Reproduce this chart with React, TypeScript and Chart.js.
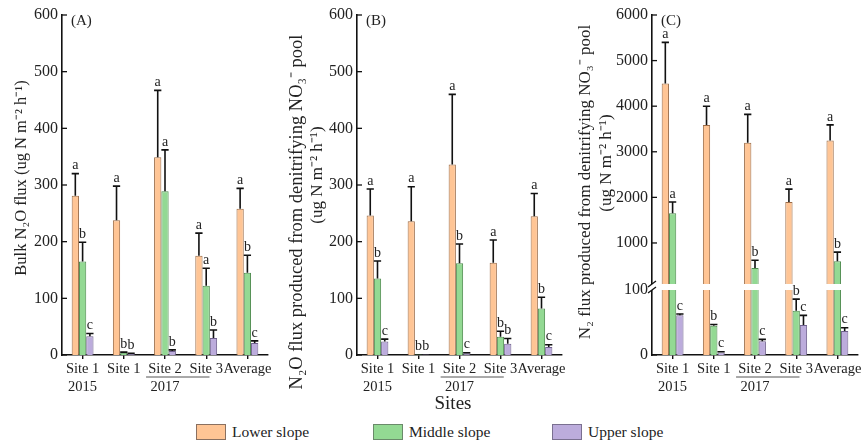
import React, { useEffect, useRef } from 'react';
import { Chart, registerables, LinearScale } from 'chart.js';

// ---------------- data ----------------
const CATEGORIES: (string | string[])[] = [['Site 1', '2015'], 'Site 1', ['Site 2', '2017'], 'Site 3', 'Average'];
const SERIES_NAMES = ['Lower slope', 'Middle slope', 'Upper slope'];

// Panel A: Bulk N2O flux
const A_LOWER = [281, 238, 349, 175, 258];
const A_LOWER_ERR = [39, 60, 118, 40, 36];
const A_MIDDLE = [165, 4, 289, 122, 145];
const A_MIDDLE_ERR = [34, 1, 73, 31, 31];
const A_UPPER = [33, 2, 7, 30, 21];
const A_UPPER_ERR = [5, 1, 2, 14, 4];
const A_LETTERS_LOWER = ['a', 'a', 'a', 'a', 'a'];
const A_LETTERS_MIDDLE = ['b', 'b', 'a', 'a', 'b'];
const A_LETTERS_UPPER = ['c', 'b', 'b', 'b', 'c'];

// Panel B: N2O from denitrifying NO3- pool
const B_LOWER = [246, 236, 336, 163, 245];
const B_LOWER_ERR = [47, 61, 124, 40, 40];
const B_MIDDLE = [135, 1, 162, 32, 82];
const B_MIDDLE_ERR = [31, 0, 34, 10, 20];
const B_UPPER = [24, 1, 3, 20, 14];
const B_UPPER_ERR = [4, 0, 1, 9, 4];
const B_LETTERS_LOWER = ['a', 'a', 'a', 'a', 'a'];
const B_LETTERS_MIDDLE = ['b', 'b', 'b', 'b', 'b'];
const B_LETTERS_UPPER = ['c', 'b', 'c', 'b', 'c'];

// Panel C: N2 from denitrifying NO3- pool (broken axis)
const C_LOWER = [4500, 3590, 3200, 1900, 3250];
const C_LOWER_ERR = [900, 410, 620, 280, 340];
const C_MIDDLE = [1650, 45, 450, 68, 600];
const C_MIDDLE_ERR = [250, 2, 170, 18, 200];
const C_UPPER = [61, 4, 21, 46, 37];
const C_UPPER_ERR = [2, 1, 3, 15, 5];
const C_LETTERS_LOWER = ['a', 'a', 'a', 'a', 'a'];
const C_LETTERS_MIDDLE = ['a', 'b', 'b', 'b', 'b'];
const C_LETTERS_UPPER = ['c', 'c', 'c', 'c', 'c'];

const AB_TICKS = [0, 100, 200, 300, 400, 500, 600];
const C_TICKS = [0, 100, 1000, 2000, 3000, 4000, 5000, 6000];
const C_BREAK = 100;

// ---------------- styles ----------------
const FONT = "'Liberation Serif', 'Times New Roman', serif";
const FILLS = ['#FFC595', '#93D993', '#BCACDC'];
const BORDERS = ['#9B6B46', '#4E8B4E', '#6F608D'];
const C_LOW_SHARE = 65 / 340;
const C_GAP_SHARE = 6 / 340;

class BrokenLinearScale extends (LinearScale as any) {
  static id = 'brokenLinear';
  static defaults = (LinearScale as any).defaults;
  buildTicks() {
    return C_TICKS.map((v) => ({ value: v }));
  }
  segments() {
    const h = this.bottom - this.top;
    const lowH = h * C_LOW_SHARE;
    const gapBottom = this.bottom - lowH;
    const gapTop = gapBottom - h * C_GAP_SHARE;
    return { lowH, gapBottom, gapTop };
  }
  getPixelForValue(value: number) {
    const { lowH, gapTop } = this.segments();
    if (value <= C_BREAK) return this.bottom - (value / C_BREAK) * lowH;
    return gapTop - ((value - C_BREAK) / (this.max - C_BREAK)) * (gapTop - this.top);
  }
  getValueForPixel(pixel: number) {
    const { lowH, gapTop, gapBottom } = this.segments();
    if (pixel >= gapBottom) return ((this.bottom - pixel) / lowH) * C_BREAK;
    return C_BREAK + ((gapTop - pixel) / (gapTop - this.top)) * (this.max - C_BREAK);
  }
}

Chart.register(...registerables, BrokenLinearScale as any);

type TitleLine = { text: string; x: number; y: number; size: number; rotate: boolean };

type PanelProps = {
  left: number;
  width: number;
  yWidth: number;
  padRight: number;
  label: string;
  values: number[][];
  errors: number[][];
  letters: string[][];
  broken: boolean;
  yMax: number;
  titles: TitleLine[];
};

function makePlugin(p: PanelProps) {
  return {
    id: 'panelDecor',
    afterDatasetsDraw(chart: any) {
      const ctx = chart.ctx;
      const { left, right, top, bottom } = chart.chartArea;
      const ys = chart.scales.y;
      const xs = chart.scales.x;
      ctx.save();
      // axis break
      if (p.broken) {
        const seg = ys.segments();
        ctx.fillStyle = '#ffffff';
        ctx.fillRect(left - 2, seg.gapTop, right - left + 4, seg.gapBottom - seg.gapTop);
        ctx.strokeStyle = '#111';
        ctx.lineWidth = 1.3;
        [seg.gapTop, seg.gapBottom].forEach((gy: number) => {
          ctx.beginPath();
          ctx.moveTo(left - 4, gy + 3);
          ctx.lineTo(left + 4, gy - 3);
          ctx.stroke();
        });
      }
      // error bars + letters
      ctx.strokeStyle = '#111';
      ctx.fillStyle = '#222';
      ctx.lineWidth = 1.6;
      ctx.font = `14px ${FONT}`;
      ctx.textAlign = 'center';
      ctx.textBaseline = 'bottom';
      chart.data.datasets.forEach((ds: any, i: number) => {
        const meta = chart.getDatasetMeta(i);
        meta.data.forEach((el: any, j: number) => {
          const v = ds.data[j];
          const e = p.errors[i][j];
          const yTop = ys.getPixelForValue(v + e);
          const half = el.width / 2;
          if (e > 0) {
            ctx.beginPath();
            ctx.moveTo(el.x, el.y);
            ctx.lineTo(el.x, yTop);
            ctx.moveTo(el.x - half, yTop);
            ctx.lineTo(el.x + half, yTop);
            ctx.stroke();
          }
          ctx.fillText(p.letters[i][j], el.x, yTop - 1);
        });
      });
      // inward y ticks
      ctx.lineWidth = 1.3;
      ys.ticks.forEach((t: any) => {
        if (p.broken && t.value === C_BREAK) return;
        const py = ys.getPixelForValue(t.value);
        ctx.beginPath();
        ctx.moveTo(left, py);
        ctx.lineTo(left + 5, py);
        ctx.stroke();
      });
      // panel label
      ctx.font = `15px ${FONT}`;
      ctx.textAlign = 'left';
      ctx.textBaseline = 'middle';
      ctx.fillStyle = '#222';
      ctx.fillText(p.label, left + 9, top + 6);
      // 2017 group line
      const step = xs.getPixelForValue(1) - xs.getPixelForValue(0);
      const gy = bottom + 22;
      ctx.strokeStyle = '#555';
      ctx.lineWidth = 1;
      ctx.beginPath();
      ctx.moveTo(xs.getPixelForValue(2) - 0.46 * step, gy);
      ctx.lineTo(xs.getPixelForValue(3) + 0.08 * step, gy);
      ctx.stroke();
      // titles
      ctx.fillStyle = '#222';
      ctx.textAlign = 'center';
      ctx.textBaseline = 'middle';
      p.titles.forEach((t) => {
        ctx.save();
        ctx.font = `${t.size}px ${FONT}`;
        ctx.translate(t.x, t.y);
        if (t.rotate) ctx.rotate(-Math.PI / 2);
        ctx.fillText(t.text, 0, 0);
        ctx.restore();
      });
      ctx.restore();
    },
  };
}

function Panel(p: PanelProps) {
  const ref = useRef<HTMLCanvasElement>(null);
  useEffect(() => {
    if (!ref.current) return;
    const datasets = SERIES_NAMES.map((name, i) => ({
      label: name,
      data: p.values[i],
      backgroundColor: FILLS[i],
      borderColor: BORDERS[i],
      borderWidth: 1,
      categoryPercentage: 0.53,
      barPercentage: 1.0,
    }));
    const yScale: any = p.broken
      ? { type: 'brokenLinear', min: 0, max: p.yMax }
      : { type: 'linear', min: 0, max: p.yMax, afterBuildTicks: (s: any) => { s.ticks = AB_TICKS.map((v) => ({ value: v })); } };
    Object.assign(yScale, {
      grid: { display: false, drawTicks: false },
      border: { display: true, color: '#111', width: 1.6 },
      ticks: {
        font: { family: FONT, size: 16 },
        color: '#222',
        padding: 4,
        callback: (v: any) => String(v),
      },
      afterFit: (s: any) => {
        s.width = p.yWidth;
        s.paddingTop = 0;
        s.paddingBottom = 0;
      },
    });
    const chart = new Chart(ref.current, {
      type: 'bar',
      data: { labels: CATEGORIES as any, datasets },
      options: {
        animation: false,
        responsive: false,
        devicePixelRatio: 1,
        layout: { padding: { left: 0, right: p.padRight, top: 15, bottom: 0 } },
        plugins: { legend: { display: false }, tooltip: { enabled: false } },
        scales: {
          x: {
            type: 'category',
            offset: true,
            grid: { display: true, drawOnChartArea: false, drawTicks: true, tickLength: 4, offset: false, color: '#111', lineWidth: 1.4 },
            border: { display: true, color: '#111', width: 1.6 },
            ticks: { font: { family: FONT, size: 14.5, lineHeight: 1.25 }, color: '#222', padding: 1, maxRotation: 0, autoSkip: false },
            afterFit: (s: any) => {
              s.height = 65;
              s.paddingLeft = 0;
              s.paddingRight = 0;
            },
          },
          y: yScale,
        },
      } as any,
      plugins: [makePlugin(p) as any],
    });
    return () => chart.destroy();
  }, []);
  return (
    <canvas
      ref={ref}
      width={p.width}
      height={420}
      style={{ position: 'absolute', left: p.left, top: 0, width: p.width, height: 420 }}
    />
  );
}

function LegendItem({ x, color, border, text }: { x: number; color: string; border: string; text: string }) {
  return (
    <div style={{ position: 'absolute', left: x, top: 423, display: 'flex', alignItems: 'center', fontFamily: FONT, fontSize: 15.5, color: '#222', lineHeight: '17px' }}>
      <div style={{ width: 28, height: 14, background: color, border: `1px solid ${border}`, marginRight: 6 }} />
      <span>{text}</span>
    </div>
  );
}

export default function App() {
  return (
    <div style={{ position: 'absolute', left: 0, top: 0, width: 867, height: 444, background: '#fff', overflow: 'hidden' }}>
      <Panel
        left={0}
        width={290}
        yWidth={62}
        padRight={22}
        label="(A)"
        values={[A_LOWER, A_MIDDLE, A_UPPER]}
        errors={[A_LOWER_ERR, A_MIDDLE_ERR, A_UPPER_ERR]}
        letters={[A_LETTERS_LOWER, A_LETTERS_MIDDLE, A_LETTERS_UPPER]}
        broken={false}
        yMax={600}
        titles={[{ text: 'Bulk N₂O flux (ug N m⁻² h⁻¹)', x: 22, y: 178, size: 16.5, rotate: true }]}
      />
      <Panel
        left={286}
        width={294}
        yWidth={71}
        padRight={18}
        label="(B)"
        values={[B_LOWER, B_MIDDLE, B_UPPER]}
        errors={[B_LOWER_ERR, B_MIDDLE_ERR, B_UPPER_ERR]}
        letters={[B_LETTERS_LOWER, B_LETTERS_MIDDLE, B_LETTERS_UPPER]}
        broken={false}
        yMax={600}
        titles={[
          { text: 'N₂O flux produced from denitrifying NO₃⁻ pool', x: 11, y: 212, size: 18.5, rotate: true },
          { text: '(ug N m⁻² h⁻¹)', x: 32, y: 175, size: 17, rotate: true },
          { text: 'Sites', x: 167, y: 404, size: 19, rotate: false },
        ]}
      />
      <Panel
        left={576}
        width={291}
        yWidth={76}
        padRight={9}
        label="(C)"
        values={[C_LOWER, C_MIDDLE, C_UPPER]}
        errors={[C_LOWER_ERR, C_MIDDLE_ERR, C_UPPER_ERR]}
        letters={[C_LETTERS_LOWER, C_LETTERS_MIDDLE, C_LETTERS_UPPER]}
        broken={true}
        yMax={6000}
        titles={[
          { text: 'N₂ flux produced from denitrifying NO₃⁻ pool', x: 10, y: 182, size: 17, rotate: true },
          { text: '(ug N m⁻² h⁻¹)', x: 31, y: 163, size: 17, rotate: true },
        ]}
      />
      <LegendItem x={196} color={FILLS[0]} border="#8a7060" text={SERIES_NAMES[0]} />
      <LegendItem x={373} color={FILLS[1]} border="#6a8a6a" text={SERIES_NAMES[1]} />
      <LegendItem x={552} color={FILLS[2]} border="#7a7090" text={SERIES_NAMES[2]} />
    </div>
  );
}
